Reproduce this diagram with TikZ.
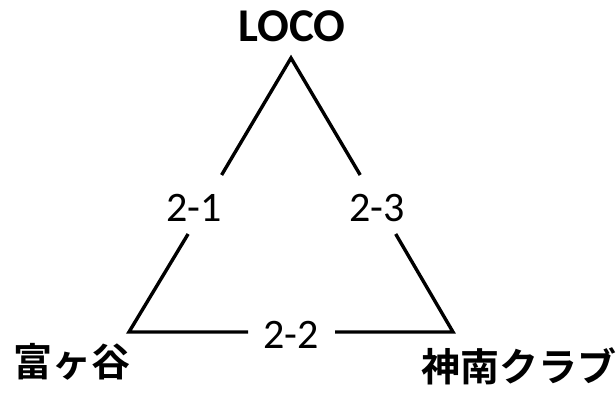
\documentclass[tikz,border=0pt]{standalone}
\usepackage{fontspec}
\setmainfont{Carlito}
\newfontfamily\jpfont{Noto Sans CJK JP}[BoldFont={* Bold}]
\begin{document}
\begin{tikzpicture}[x=1pt,y=-1pt,
  edge/.style={line width=3.4pt},
  elabel/.style={font=\fontsize{42}{46}\selectfont, inner sep=0pt},
  vlabel/.style={font=\bfseries\fontsize{47}{50}\selectfont, inner sep=0pt},
  jlabel/.style={font=\jpfont\bfseries\fontsize{39}{42}\selectfont, inner sep=0pt}]
\useasboundingbox (0,0) rectangle (616,393);
% vertices
\coordinate (top) at (291,58);
\coordinate (bl) at (129,332);
\coordinate (br) at (453,332);
% gap ends
\coordinate (g1a) at (221.6,175);
\coordinate (g1b) at (188.1,234);
\coordinate (g3a) at (360.2,175);
\coordinate (g3b) at (395.7,234);
\coordinate (g2a) at (248,332);
\coordinate (g2b) at (335,332);
% edges
\draw[edge] (g1a) -- (top) -- (g3a);
\draw[edge] (g1b) -- (bl) -- (g2a);
\draw[edge] (g2b) -- (br) -- (g3b);
% labels
\node[vlabel] (loco) at (292,26) {LOCO};
\node[jlabel] (tomi) at (72,362) {富ヶ谷};
\node[jlabel] (jinnan) at (519,366) {神南クラブ};
\node[elabel] (e21) at (194,208) {2-1};
\node[elabel] (e23) at (377,208) {2-3};
\node[elabel] (e22) at (291,335) {2-2};
\end{tikzpicture}
\end{document}
